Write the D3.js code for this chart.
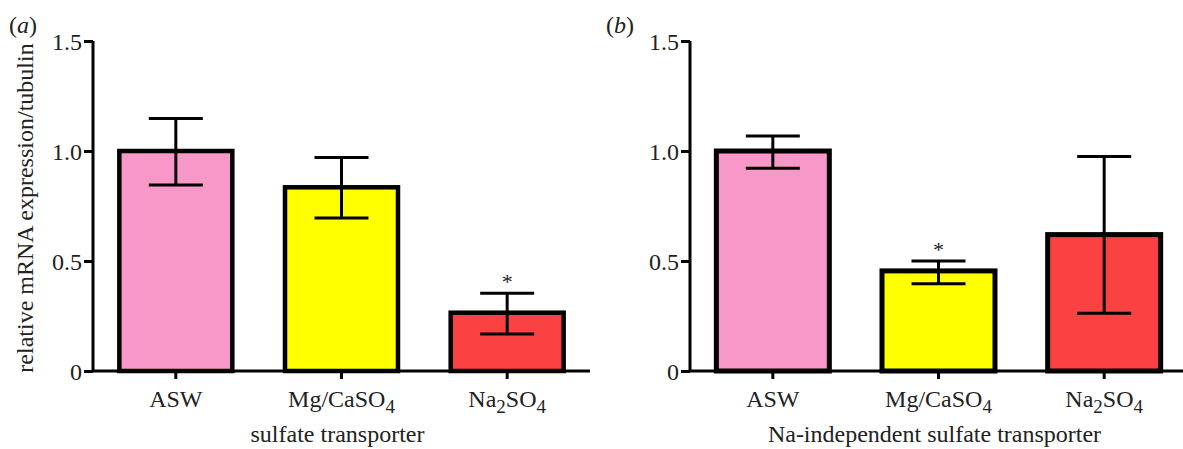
<!DOCTYPE html>
<html><head><meta charset="utf-8">
<script src="https://cdn.jsdelivr.net/npm/d3@7"></script>
<style>body{margin:0;background:#fff}svg{display:block}text{font-family:"Liberation Serif","Times New Roman",serif;fill:#222}</style>
</head><body><svg id="c" width="1183" height="449"></svg>
<script>
const categories = ["ASW", "Mg/CaSO4", "Na2SO4"];
const labelParts = [[["ASW",false]], [["Mg/CaSO",false],["4",true]], [["Na",false],["2",true],["SO",false],["4",true]]];
const colors = ["#F898C8", "#FFFF00", "#FA4242"];
const meanA = [1.0, 0.835, 0.265];
const errHiA = [1.148, 0.97, 0.353];
const errLoA = [0.845, 0.695, 0.168];
const sigA = [false, false, true];
const meanB = [1.0, 0.455, 0.62];
const errHiB = [1.068, 0.5, 0.975];
const errLoB = [0.922, 0.397, 0.263];
const sigB = [false, true, false];
const yTicks = [0, 0.5, 1.0, 1.5];
const titles = ["sulfate transporter", "Na-independent sulfate transporter"];
const panelLabels = ["a", "b"];

const FS = 24;
const svg = d3.select("#c");
const y = d3.scaleLinear().domain([0, 1.5]).range([371, 41]);

function panel(x0, x1, mean, hi, lo, sig, title, plabel, barStroke) {
  const g = svg.append("g");
  const x = d3.scaleBand().domain(categories).range([x0, x1]).paddingInner(0.318).paddingOuter(0.159);
  g.selectAll("rect.bar").data(categories).join("rect")
    .attr("x", d => x(d)).attr("width", x.bandwidth())
    .attr("y", (d,i) => y(mean[i])).attr("height", (d,i) => y(0) - y(mean[i]))
    .attr("fill", (d,i) => colors[i]).attr("stroke", "#000").attr("stroke-width", barStroke);
  const cx = d => x(d) + x.bandwidth()/2;
  const capW = 27;
  g.selectAll("line.ev").data(categories).join("line")
    .attr("x1", cx).attr("x2", cx).attr("y1", (d,i)=>y(hi[i])).attr("y2",(d,i)=>y(lo[i]))
    .attr("stroke","#000").attr("stroke-width",3);
  g.selectAll("line.eh").data(categories).join("line")
    .attr("x1", d=>cx(d)-capW).attr("x2", d=>cx(d)+capW).attr("y1",(d,i)=>y(hi[i])).attr("y2",(d,i)=>y(hi[i]))
    .attr("stroke","#000").attr("stroke-width",3);
  g.selectAll("line.el").data(categories).join("line")
    .attr("x1", d=>cx(d)-capW).attr("x2", d=>cx(d)+capW).attr("y1",(d,i)=>y(lo[i])).attr("y2",(d,i)=>y(lo[i]))
    .attr("stroke","#000").attr("stroke-width",3);
  g.selectAll("text.star").data(categories.filter((d,i)=>sig[i])).join("text")
    .attr("x", cx).attr("y", d => y(hi[categories.indexOf(d)]) - 4)
    .attr("text-anchor","middle").attr("font-size", 22).attr("fill", "#333").text("*");
  const ya = g.append("g").attr("transform", `translate(${x0},0)`)
    .call(d3.axisLeft(y).tickValues(yTicks).tickFormat(d => d === 0 ? "0" : d3.format(".1f")(d)).tickSize(9).tickSizeOuter(0));
  ya.select(".domain").attr("stroke-width", 3).attr("d", `M0,${y(1.5)}V${y(0)}`);
  ya.selectAll(".tick line").attr("stroke-width", 3);
  ya.selectAll(".tick text").attr("font-size", FS).attr("x", -11).attr("dy", "0.35em").attr("font-family", '"Liberation Serif",serif').attr("fill", "#222");
  const xa = g.append("g").attr("transform", `translate(0,${y(0)})`)
    .call(d3.axisBottom(x).tickSize(8).tickSizeOuter(0).tickFormat(""));
  xa.select(".domain").attr("stroke-width", 3).attr("d", `M${x0},0H${x1}`);
  xa.selectAll(".tick line").attr("stroke-width", 3);
  xa.selectAll(".tick").each(function(d, i) {
    const t = d3.select(this).append("text").attr("y", 36).attr("font-size", FS)
      .attr("text-anchor", "middle").attr("fill", "#222").attr("font-family", '"Liberation Serif",serif');
    let shifted = false;
    labelParts[i].forEach(([s, sub]) => {
      const ts = t.append("tspan").text(s);
      if (sub) { ts.attr("dy", 6).attr("font-size", 19); shifted = true; }
      else if (shifted) { ts.attr("dy", -6); shifted = false; }
    });
  });
  g.append("text").attr("x", x(categories[1]) + x.bandwidth()/2 - 4).attr("y", 442)
    .attr("text-anchor","middle").attr("font-size", FS).text(title);
  const pl = g.append("text").attr("x", x0 - 84).attr("y", 33).attr("font-size", FS);
  pl.append("tspan").text("(");
  pl.append("tspan").attr("font-style","italic").text(plabel);
  pl.append("tspan").text(")");
}

panel(93, 590, meanA, errHiA, errLoA, sigA, titles[0], panelLabels[0], 4.5);
panel(690, 1187, meanB, errHiB, errLoB, sigB, titles[1], panelLabels[1], 5);

svg.append("text").attr("transform", `translate(33,${(y(0)+y(1.5))/2 + 2}) rotate(-90)`)
  .attr("text-anchor","middle").attr("font-size", FS).text("relative mRNA expression/tubulin");
</script></body></html>
